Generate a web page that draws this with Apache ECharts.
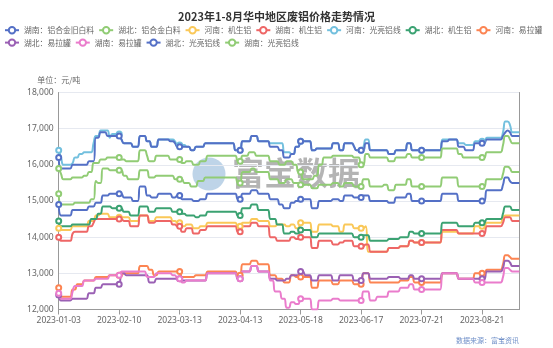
<!DOCTYPE html>
<html><head><meta charset="utf-8">
<script src="https://cdn.jsdelivr.net/npm/echarts@6/dist/echarts.min.js"></script>
<style>html,body{margin:0;padding:0;background:#fff}#c{width:553px;height:348px}</style>
</head><body><div id="c"></div>
<script>
const dates = ['2023-01-03','2023-01-04','2023-01-05','2023-01-06','2023-01-07','2023-01-09','2023-01-10','2023-01-11','2023-01-12','2023-01-13','2023-01-14','2023-01-16','2023-01-17','2023-01-18','2023-01-19','2023-01-20','2023-01-30','2023-01-31','2023-02-01','2023-02-02','2023-02-03','2023-02-04','2023-02-06','2023-02-07','2023-02-08','2023-02-09',
'2023-02-10','2023-02-11','2023-02-13','2023-02-14','2023-02-15','2023-02-16','2023-02-17','2023-02-18','2023-02-20','2023-02-21','2023-02-22','2023-02-23','2023-02-24','2023-02-25','2023-02-27','2023-02-28','2023-03-01','2023-03-02','2023-03-03','2023-03-04','2023-03-06','2023-03-07','2023-03-08','2023-03-09','2023-03-10','2023-03-11',
'2023-03-13','2023-03-14','2023-03-15','2023-03-16','2023-03-17','2023-03-18','2023-03-20','2023-03-21','2023-03-22','2023-03-23','2023-03-24','2023-03-25','2023-03-27','2023-03-28','2023-03-29','2023-03-30','2023-03-31','2023-04-01','2023-04-03','2023-04-04','2023-04-06','2023-04-07','2023-04-08','2023-04-10','2023-04-11','2023-04-12',
'2023-04-13','2023-04-14','2023-04-15','2023-04-17','2023-04-18','2023-04-19','2023-04-20','2023-04-21','2023-04-22','2023-04-24','2023-04-25','2023-04-26','2023-04-27','2023-04-28','2023-05-04','2023-05-05','2023-05-06','2023-05-08','2023-05-09','2023-05-10','2023-05-11','2023-05-12','2023-05-13','2023-05-15','2023-05-16','2023-05-17',
'2023-05-18','2023-05-19','2023-05-20','2023-05-22','2023-05-23','2023-05-24','2023-05-25','2023-05-26','2023-05-27','2023-05-29','2023-05-30','2023-05-31','2023-06-01','2023-06-02','2023-06-03','2023-06-05','2023-06-06','2023-06-07','2023-06-08','2023-06-09','2023-06-10','2023-06-12','2023-06-13','2023-06-14','2023-06-15','2023-06-16',
'2023-06-17','2023-06-19','2023-06-20','2023-06-21','2023-06-26','2023-06-27','2023-06-28','2023-06-29','2023-06-30','2023-07-01','2023-07-03','2023-07-04','2023-07-05','2023-07-06','2023-07-07','2023-07-08','2023-07-10','2023-07-11','2023-07-12','2023-07-13','2023-07-14','2023-07-15','2023-07-17','2023-07-18','2023-07-19','2023-07-20',
'2023-07-21','2023-07-22','2023-07-24','2023-07-25','2023-07-26','2023-07-27','2023-07-28','2023-07-29','2023-07-31','2023-08-01','2023-08-02','2023-08-03','2023-08-04','2023-08-05','2023-08-07','2023-08-08','2023-08-09','2023-08-10','2023-08-11','2023-08-12','2023-08-14','2023-08-15','2023-08-16','2023-08-17','2023-08-18','2023-08-19',
'2023-08-21','2023-08-22','2023-08-23','2023-08-24','2023-08-25','2023-08-26','2023-08-28','2023-08-29','2023-08-30','2023-08-31','2023-09-01','2023-09-02','2023-09-04','2023-09-05','2023-09-06','2023-09-07','2023-09-08'];

// Prices: [first date index, price held from that date]
const hunanJiuBai = [[0,14900],[1,14600],[6,14750],[13,14850],[16,14950],[19,15150],[22,15200],[28,15100],[32,15000],[35,15400],[38,15150],[40,15100],[43,15200],[49,15100],[51,15150],[53,15050],[58,15000],[61,15050],[64,15200],[77,15050],[79,15200],[83,15300],[86,15200],[91,15050],[95,14900],[97,14800],[100,14950],[102,15000],[104,15050],[109,14800],[112,15000],[118,15050],[121,15000],[123,15150],[127,15100],[131,15150],[134,15000],[142,14950],[145,15100],[150,15200],[152,15000],[165,15200],[172,15000],[184,15300],[191,15450],[192,15650],[194,15550],[195,15500]];
const hubeiBaiLiao = [[0,15200],[1,14900],[7,14950],[14,15050],[16,15550],[17,15500],[19,15900],[22,15850],[28,15700],[30,15600],[35,15850],[39,15650],[42,15700],[50,15600],[54,15500],[57,15400],[60,15550],[63,15650],[77,15500],[79,15800],[83,15900],[85,15800],[91,15600],[95,15500],[98,15600],[101,15500],[104,15450],[109,15350],[112,15450],[118,15500],[121,15400],[123,15500],[127,15400],[131,15600],[134,15400],[140,15450],[142,15300],[145,15450],[150,15600],[152,15400],[165,15650],[172,15400],[184,15600],[191,15750],[192,15950],[194,15900],[195,15800]];
const henanJiSheng = [[0,14250],[1,14200],[6,14300],[13,14450],[16,14600],[18,14650],[22,14550],[31,14450],[35,14600],[39,14450],[42,14550],[49,14450],[51,14400],[53,14300],[55,14350],[58,14250],[61,14300],[64,14400],[77,14300],[79,14400],[83,14500],[86,14450],[91,14300],[94,14350],[98,14300],[100,14350],[102,14250],[104,14400],[109,14150],[112,14350],[118,14300],[121,14150],[123,14350],[127,14250],[132,14300],[133,13600],[142,13700],[147,13750],[151,13900],[153,13850],[165,14150],[172,14100],[179,14300],[184,14400],[191,14550],[192,14600]];
const hunanJiSheng = [[0,14000],[1,13900],[6,14100],[7,14150],[13,14300],[15,14400],[16,14500],[28,14450],[31,14300],[35,14600],[39,14400],[42,14450],[49,14350],[51,14300],[53,14150],[55,14250],[58,14100],[61,14200],[64,14300],[77,14150],[79,14300],[83,14400],[86,14300],[91,14000],[94,13900],[100,14000],[102,13950],[104,14000],[109,13700],[112,13900],[118,13800],[121,13850],[123,13900],[127,13750],[132,13800],[134,13600],[142,13700],[147,13750],[151,13900],[153,13850],[165,14200],[172,14100],[184,14300],[191,14400],[192,14550],[195,14450]];
const henanGuangLiang = [[0,16400],[1,16200],[2,16000],[6,16050],[7,16200],[9,16300],[11,16350],[15,16600],[16,16800],[18,16950],[22,16750],[23,16850],[27,16700],[28,16600],[32,16500],[35,16800],[38,16650],[40,16500],[43,16700],[48,16700],[50,16650],[51,16550],[55,16500],[57,16400],[59,16500],[63,16600],[76,16400],[79,16650],[83,16800],[86,16650],[91,16600],[97,16350],[100,16300],[102,16500],[104,16650],[109,16400],[111,16450],[118,16600],[121,16400],[123,16600],[127,16500],[128,16400],[131,16500],[132,16700],[134,16400],[142,16300],[145,16400],[150,16600],[152,16400],[165,16700],[172,16600],[175,16550],[179,16650],[184,16750],[191,16900],[192,17200],[194,17100],[195,16900]];
const hubeiJiSheng = [[0,14450],[1,14300],[6,14350],[14,14500],[17,14650],[19,14850],[23,14800],[28,14700],[31,14600],[35,14850],[39,14700],[42,14800],[49,14700],[53,14650],[55,14600],[59,14550],[61,14600],[64,14700],[77,14600],[79,14800],[83,14900],[86,14750],[91,14500],[94,14350],[97,14100],[100,14150],[102,14100],[104,14200],[109,14000],[112,14100],[127,14000],[131,14050],[134,13900],[142,13950],[147,14000],[151,14150],[153,14100],[165,14400],[172,14300],[179,14400],[184,14500],[191,14650],[192,14850],[195,14750]];
const henanYiLaGuan = [[0,12600],[1,12350],[6,12550],[8,12700],[11,12800],[16,12900],[22,12950],[28,13000],[35,13200],[39,13100],[41,12950],[43,13050],[53,12900],[59,12950],[64,13050],[77,12950],[79,13250],[83,13350],[86,13250],[91,12950],[94,12850],[97,12750],[100,12950],[102,12900],[109,12600],[112,12800],[118,12700],[121,12800],[127,12700],[131,13000],[134,12750],[147,12800],[151,12900],[153,12750],[165,13000],[172,12850],[179,13000],[184,13100],[191,13250],[192,13500],[194,13450],[195,13400]];
const hubeiYiLaGuan = [[0,12400],[1,12250],[6,12300],[13,12450],[16,12600],[19,12700],[27,13000],[29,12950],[35,12950],[39,12750],[42,12850],[53,12800],[64,13000],[77,12850],[79,13050],[83,13200],[86,13050],[91,12850],[94,12800],[98,12850],[100,12950],[104,13050],[106,12950],[109,12800],[112,12950],[118,12800],[121,12950],[127,12800],[131,13000],[134,12850],[142,12900],[147,12850],[151,12950],[153,12850],[165,13000],[172,12850],[184,13050],[191,13150],[192,13350],[194,13300],[195,13200]];
const hunanYiLaGuan = [[0,12450],[1,12300],[6,12500],[7,12650],[11,12800],[16,12850],[22,12950],[27,13050],[38,12900],[42,13000],[49,12950],[51,12850],[53,12750],[55,12800],[64,13000],[77,12850],[79,13050],[83,13200],[86,13050],[91,12800],[93,12500],[96,12300],[98,12050],[100,12200],[102,12150],[104,12300],[109,12000],[112,12250],[118,12300],[121,12250],[131,12500],[134,12250],[137,12350],[142,12500],[147,12600],[151,12700],[153,12550],[165,13000],[172,12850],[179,12750],[191,12900],[192,13150],[194,13100],[195,13050]];
const hubeiGuangLiang = [[0,16200],[1,15900],[6,16000],[13,16100],[16,16750],[18,16900],[21,16800],[27,16700],[28,16600],[32,16500],[35,16800],[38,16650],[40,16500],[43,16700],[48,16650],[50,16600],[51,16500],[57,16400],[59,16500],[63,16600],[76,16400],[79,16650],[83,16800],[86,16650],[91,16500],[95,16400],[97,16200],[100,16300],[102,16500],[104,16650],[109,16400],[111,16450],[118,16600],[121,16400],[123,16600],[127,16500],[128,16400],[132,16600],[134,16400],[142,16300],[145,16400],[150,16600],[152,16400],[165,16650],[168,16700],[172,16500],[175,16400],[179,16600],[184,16700],[191,16800],[192,16900],[193,16950],[194,16900],[195,16800]];
const hunanGuangLiang = [[0,15900],[1,15750],[2,15600],[6,15650],[11,15700],[13,15800],[15,16050],[18,16150],[21,16200],[27,16150],[29,16100],[35,16400],[38,16250],[39,16100],[42,16250],[48,16150],[53,16050],[55,16100],[58,16000],[61,16100],[64,16250],[77,16100],[79,16250],[82,16350],[85,16250],[91,16100],[95,16000],[98,16100],[101,16000],[103,15800],[105,15600],[110,15700],[112,16000],[114,16200],[118,16250],[127,16200],[130,16000],[132,16300],[134,16200],[142,16100],[145,16200],[150,16300],[152,16200],[165,16450],[172,16300],[174,16200],[184,16350],[191,16550],[192,16800],[194,16700],[195,16600]];

const seriesNames = ['湖南：铝合金旧白料','湖北：铝合金白料','河南：机生铝','湖南：机生铝','河南：光亮铝线','湖北：机生铝','河南：易拉罐','湖北：易拉罐','湖南：易拉罐','湖北：光亮铝线','湖南：光亮铝线'];
const seriesData = [hunanJiuBai,hubeiBaiLiao,henanJiSheng,hunanJiSheng,henanGuangLiang,hubeiJiSheng,henanYiLaGuan,hubeiYiLaGuan,hunanYiLaGuan,hubeiGuangLiang,hunanGuangLiang];
const palette = ['#5470c6','#91cc75','#fac858','#ee6666','#73c0de','#3ba272','#fc8452','#9a60b4','#ea7ccc'];

function toDaily(changes){
  const out=[]; let k=0;
  for(let i=0;i<dates.length;i++){
    while(k+1<changes.length && changes[k+1][0]<=i) k++;
    out.push(changes[k][1]);
  }
  return out;
}

const chart = echarts.init(document.getElementById('c'), null, {renderer:'canvas'});
chart.setOption({
  animation:false,
  color: palette,
  title:{text:'2023年1-8月华中地区废铝价格走势情况', left:'center', top:6,
    textStyle:{fontSize:11, fontWeight:'bold', color:'#333', fontFamily:'Noto Sans CJK SC'}},
  legend:{left:4, top:26, width:600, itemWidth:14, itemHeight:8, itemGap:4, padding:0,
    textStyle:{fontSize:7.8, color:'#666', fontFamily:'Noto Sans CJK SC'}},
  grid:{left:58.7, right:33.7, top:92.5, bottom:38.5},
  xAxis:{type:'category', data:dates, boundaryGap:false,
    axisLine:{lineStyle:{color:'#999'}}, axisTick:{interval:25, lineStyle:{color:'#999'}},
    axisLabel:{interval:25, fontSize:8.5, color:'#666', margin:7, fontFamily:'Noto Sans'}},
  yAxis:[{type:'value', min:12000, max:18000, interval:1000,
    name:'单位：元/吨', nameGap:9, nameTextStyle:{fontSize:8, color:'#666', fontFamily:'Noto Sans CJK SC'},
    axisLine:{show:true, lineStyle:{color:'#999'}}, axisTick:{show:false},
    axisLabel:{fontSize:8.5, color:'#666', margin:5, fontFamily:'Noto Sans'},
    splitLine:{lineStyle:{color:'#E6E9F0'}}},
   {type:'value', position:'right', min:12000, max:18000, interval:1000,
    axisLine:{show:true, lineStyle:{color:'#999'}}, axisTick:{show:false}, axisLabel:{show:false}, splitLine:{show:false}}],
  graphic:[
    {type:'circle', shape:{cx:209, cy:174, r:16.5}, style:{fill:'rgba(110,160,205,0.45)'}, z:-1, silent:true},
    {type:'text', style:{text:'富宝数据', x:232, y:173, fontSize:32, fontWeight:'bold', fill:'rgba(130,130,130,0.6)', verticalAlign:'middle', fontFamily:'Noto Sans CJK SC'}, z:-1, silent:true},
    {type:'text', style:{text:'数据来源：富宝资讯', x:519, y:340, fontSize:7, fill:'#6f8fc8', align:'right', verticalAlign:'middle', fontFamily:'Noto Sans CJK SC'}, silent:true}
  ],
  series: seriesNames.map((n,i)=>({
    name:n, type:'line', data:toDaily(seriesData[i]), smooth:true,
    symbol:'emptyCircle', symbolSize:5, lineStyle:{width:2}
  }))
});
</script></body></html>
